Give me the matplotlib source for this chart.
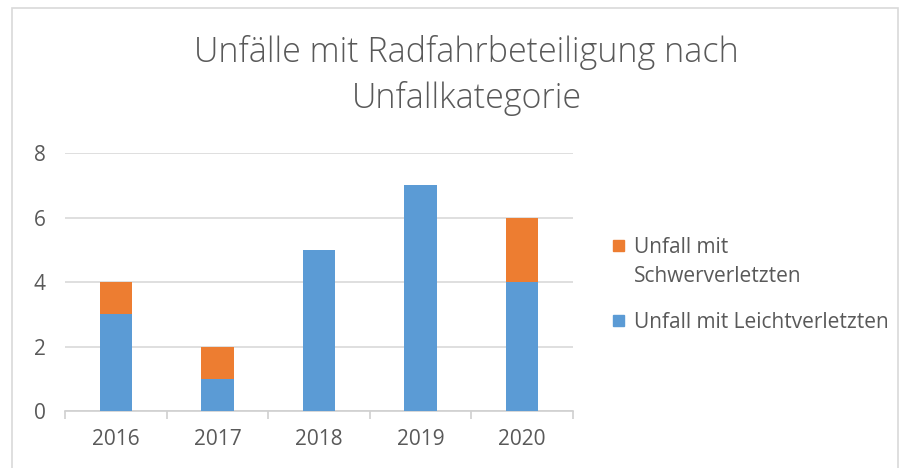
import matplotlib.pyplot as plt
from matplotlib.patches import Rectangle

# Daten
years = ['2016', '2017', '2018', '2019', '2020']
leicht = [3, 1, 5, 7, 4]
schwer = [1, 1, 0, 0, 2]
labels = ['Unfall mit\nSchwerverletzten', 'Unfall mit Leichtverletzten']
colors = ['#ED7D31', '#5B9BD5']

plt.rcParams['font.family'] = ['Open Sans', 'DejaVu Sans']
grey = '#595959'

fig = plt.figure(figsize=(9.06, 4.68), dpi=100)
ax = fig.add_axes([0.0717, 0.1218, 0.5608, 0.5512])

x = list(range(len(years)))
ax.bar(x, leicht, width=0.32, color=colors[1], zorder=3)
ax.bar(x, schwer, width=0.32, bottom=leicht, color=colors[0], zorder=3)

ax.set_xlim(-0.5, len(years) - 0.5)
ax.set_ylim(0, 8)
ax.set_yticks([0, 2, 4, 6, 8])
ax.set_xticks(x)
ax.set_xticklabels(years)
ax.set_xticks([i - 0.5 for i in range(len(years) + 1)], minor=True)
ax.grid(axis='y', color='#D9D9D9', linewidth=1.2, zorder=0)
for s in ['top', 'right', 'left']:
    ax.spines[s].set_visible(False)
ax.spines['bottom'].set_color('#D0D0D0')
ax.spines['bottom'].set_linewidth(1.2)
ax.tick_params(axis='both', which='major', length=0, labelsize=15, colors=grey)
ax.tick_params(axis='x', which='major', pad=13)
ax.tick_params(axis='y', pad=14)
ax.tick_params(axis='x', which='minor', length=6, color='#D0D0D0', width=1.2)

fig.text(0.515, 1 - 53 / 468, 'Unfälle mit Radfahrbeteiligung nach', ha='center', va='center',
         fontsize=24.5, color=grey, fontweight='light')
fig.text(0.515, 1 - 99 / 468, 'Unfallkategorie', ha='center', va='center',
         fontsize=24.5, color=grey, fontweight='light')

# Legende
leg_y = [1 - 246 / 468, 1 - 321 / 468]
for lab, col, yy in zip(labels, colors, leg_y):
    fig.add_artist(Rectangle((613 / 906, yy - 5 / 468), 11 / 906, 11 / 468,
                             transform=fig.transFigure, color=col))
    fig.text(634 / 906, yy + 0.019, lab, ha='left', va='top', fontsize=15,
             color=grey, linespacing=1.5)

# Rahmen
fig.add_artist(Rectangle((12 / 906, -0.01), 886 / 906, 1 - 8 / 468 + 0.01,
                         transform=fig.transFigure, fill=False,
                         edgecolor='#D9D9D9', linewidth=1.2))

plt.savefig('out.png', dpi=100)
